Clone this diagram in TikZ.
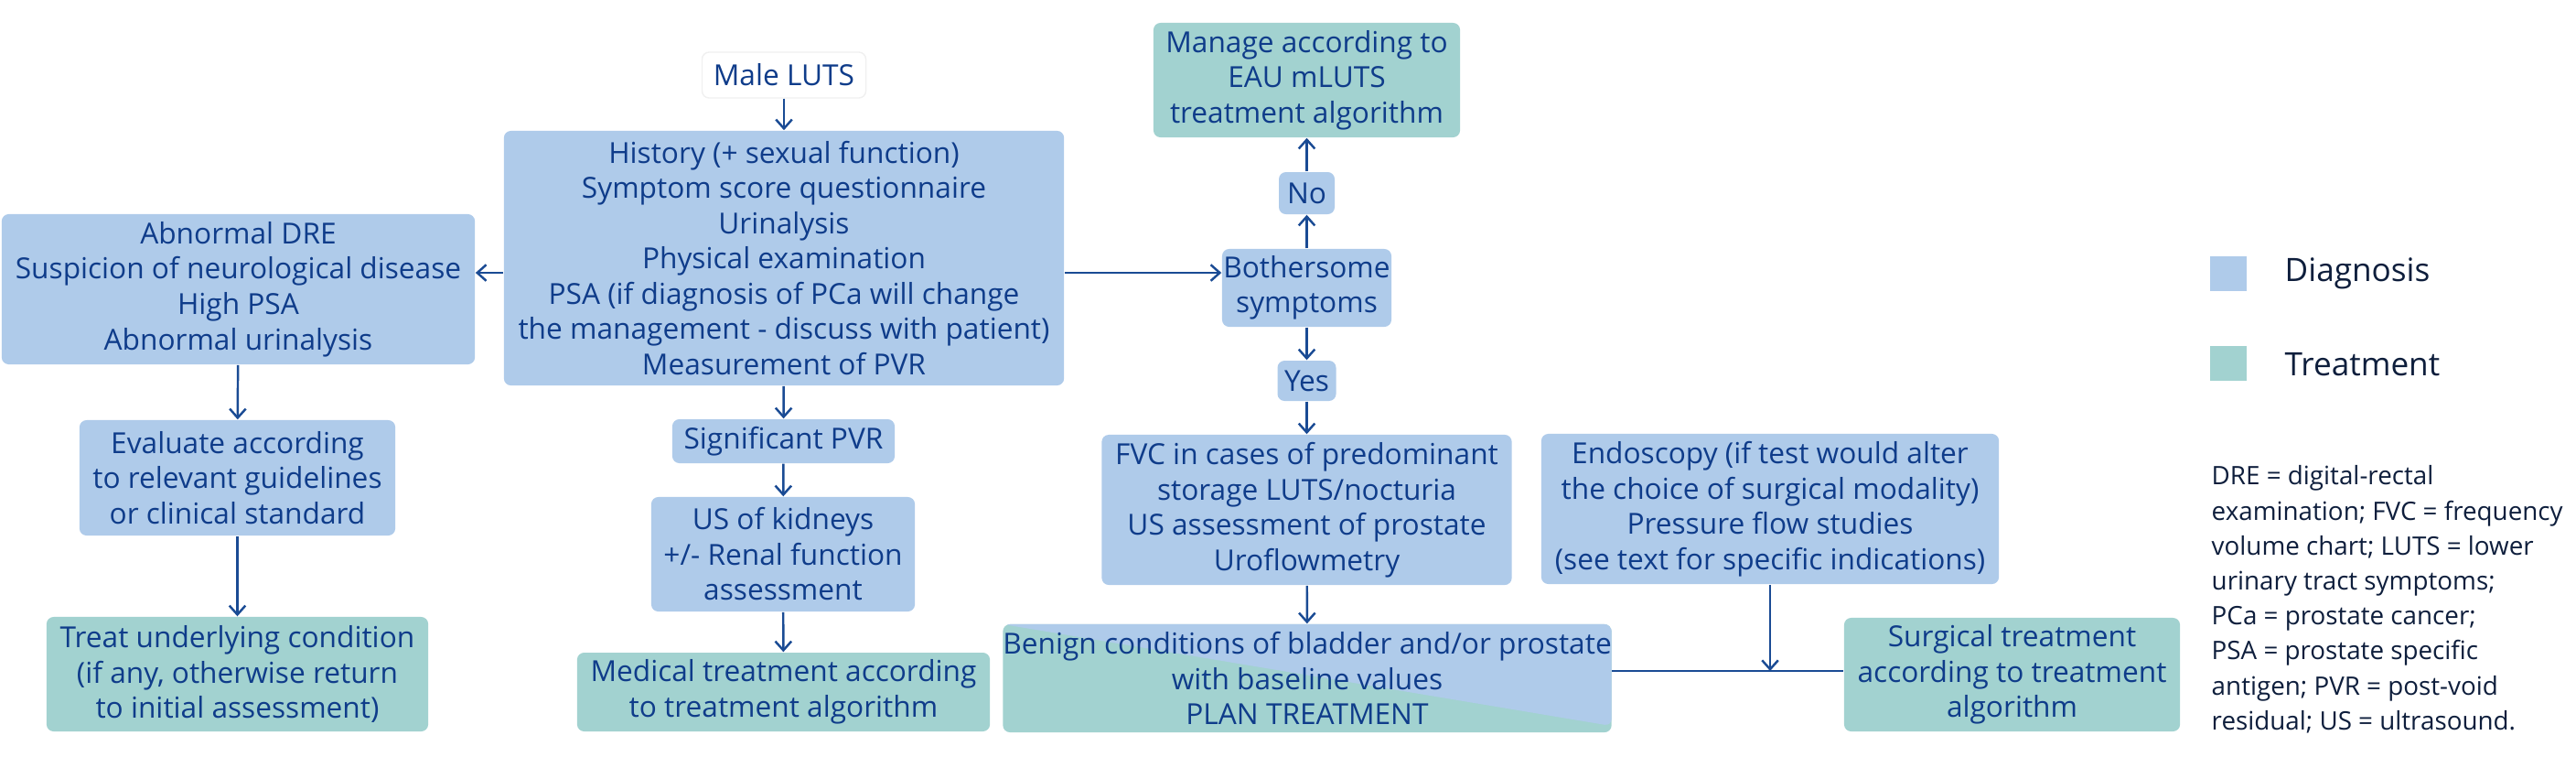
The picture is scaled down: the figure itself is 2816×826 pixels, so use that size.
\documentclass[tikz,border=0pt]{standalone}
\usepackage{fontspec}
\setmainfont{Open Sans}
\usetikzlibrary{arrows.meta}

\definecolor{diagblue}{HTML}{AFCBEA}
\definecolor{treatteal}{HTML}{A2D2D0}
\definecolor{navytext}{HTML}{0F3C8A}
\definecolor{arrowblue}{HTML}{1A4B94}
\definecolor{keytext}{HTML}{0E1E3C}

\begin{document}
\begin{tikzpicture}[x=0.01cm,y=-0.01cm]
\tikzset{
  diagbox/.style={rounded corners=2.2pt,fill=diagblue,text=navytext,align=center,inner sep=0pt,font=\fontsize{9}{10.95}\selectfont},
  treatbox/.style={diagbox,fill=treatteal},
  startbox/.style={diagbox,fill=white,draw=black!6},
  flowarrow/.style={draw=arrowblue,line width=0.7pt,-{Straight Barb[length=2.8pt,width=5pt]}},
  flowline/.style={draw=arrowblue,line width=0.7pt},
  keybox/.style={fill=#1,minimum width=0.4cm,minimum height=0.38cm,inner sep=0pt},
  keylabel/.style={anchor=west,inner sep=0pt,text=keytext,font=\fontsize{10}{12}\selectfont}
}
\useasboundingbox (0,0) rectangle (2816,826);
% main column
\node[startbox,minimum width=1.79cm,minimum height=0.5cm] (n_luts) at (857,82) {Male LUTS};
\node[diagbox,minimum width=6.12cm,minimum height=2.78cm] (n_hist) at (857,282) {History (+ sexual function)\\Symptom score questionnaire\\Urinalysis\\Physical examination\\PSA (if diagnosis of PCa will change\\the management - discuss with patient)\\Measurement of PVR};
\node[diagbox,minimum width=2.43cm,minimum height=0.48cm] (n_sig) at (856.5,482) {Significant PVR};
\node[diagbox,minimum width=2.88cm,minimum height=1.25cm] (n_uskid) at (856,605.5) {US of kidneys\\+/- Renal function\\assessment};
\node[treatbox,minimum width=4.51cm,minimum height=0.86cm] (n_med) at (856.5,756) {Medical treatment according\\to treatment algorithm};
% left column
\node[diagbox,minimum width=5.17cm,minimum height=1.64cm] (n_abn) at (260.5,316) {Abnormal DRE\\Suspicion of neurological disease\\High PSA\\Abnormal urinalysis};
\node[diagbox,minimum width=3.45cm,minimum height=1.26cm] (n_eval) at (259.5,522) {Evaluate according\\to relevant guidelines\\or clinical standard};
\node[treatbox,minimum width=4.17cm,minimum height=1.25cm] (n_treat) at (259.5,736.5) {Treat underlying condition\\(if any, otherwise return\\to initial assessment)};
% right column
\node[treatbox,minimum width=3.35cm,minimum height=1.25cm] (n_manage) at (1428.5,87.5) {Manage according to\\EAU mLUTS\\treatment algorithm};
\node[diagbox,minimum width=0.61cm,minimum height=0.46cm] (n_no) at (1428.5,211) {No};
\node[diagbox,minimum width=1.85cm,minimum height=0.85cm] (n_bother) at (1428.5,314.5) {Bothersome\\symptoms};
\node[diagbox,minimum width=0.64cm,minimum height=0.44cm] (n_yes) at (1428.5,416) {Yes};
\node[diagbox,minimum width=4.48cm,minimum height=1.64cm] (n_fvc) at (1428.5,557) {FVC in cases of predominant\\storage LUTS/nocturia\\US assessment of prostate\\Uroflowmetry};
\node[diagbox,minimum width=5.0cm,minimum height=1.64cm] (n_endo) at (1935,556) {Endoscopy (if test would alter\\the choice of surgical modality)\\Pressure flow studies\\(see text for specific indications)};
\node[treatbox,minimum width=6.56cm,minimum height=1.18cm,
  path picture={\fill[diagblue] (path picture bounding box.north west) -- (path picture bounding box.north east) -- ([yshift=0.07cm]path picture bounding box.south east) -- cycle;}]
  (n_benign) at (1429,741) {Benign conditions of bladder and/or prostate\\with baseline values\\PLAN TREATMENT};
\node[treatbox,minimum width=3.67cm,minimum height=1.24cm] (n_surg) at (2199.5,737) {Surgical treatment\\according to treatment\\algorithm};
% legend
\node[keybox=diagblue] (key_diag) at (2436,299) {};
\node[keylabel] (key_diag_txt) at (2497,299) {Diagnosis};
\node[keybox=treatteal] (key_treat) at (2436,397) {};
\node[keylabel] (key_treat_txt) at (2497,398) {Treatment};
\node[anchor=north west,align=left,inner sep=0pt,text=keytext,font=\fontsize{7.9}{10.87}\selectfont] (n_abbr) at (2417,508)
  {DRE = digital-rectal\\examination; FVC = frequency\\volume chart; LUTS = lower\\urinary tract symptoms;\\PCa = prostate cancer;\\PSA = prostate specific\\antigen; PVR = post-void\\residual; US = ultrasound.};
% levels for the side connectors
\coordinate (c_mid) at (0,298);
\coordinate (c_join) at (n_endo.south |- 0,733);
% connectors
\draw[flowarrow] (n_luts) -- (n_hist);
\draw[flowarrow] (n_hist) -- (n_sig);
\draw[flowarrow] (n_sig) -- (n_uskid);
\draw[flowarrow] (n_uskid) -- (n_med);
\draw[flowarrow] (n_hist.west |- c_mid) -- (n_abn.east |- c_mid);
\draw[flowarrow] (n_abn) -- (n_eval);
\draw[flowarrow] (n_eval) -- (n_treat);
\draw[flowarrow] (n_hist.east |- c_mid) -- (n_bother.west |- c_mid);
\draw[flowarrow] (n_bother) -- (n_no);
\draw[flowarrow] (n_no) -- (n_manage);
\draw[flowarrow] (n_bother) -- (n_yes);
\draw[flowarrow] (n_yes) -- (n_fvc);
\draw[flowarrow] (n_fvc) -- (n_benign);
\draw[flowline] (n_benign.east |- c_join) -- (n_surg.west |- c_join);
\draw[flowarrow] (n_endo) -- (c_join);
\end{tikzpicture}
\end{document}
